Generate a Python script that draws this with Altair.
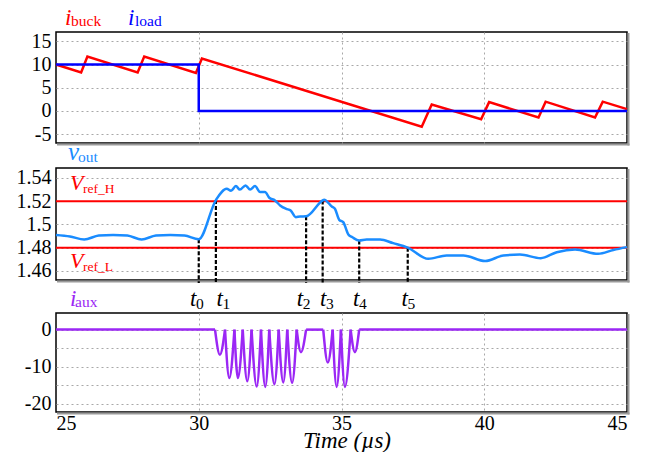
import altair as alt
import pandas as pd

# ---------------- data ----------------
t_buck = [25, 25.88, 26.1, 27.86, 28.09, 29.9, 30.11, 37.81, 38.16, 39.89, 40.17, 41.9, 42.15, 43.88, 44.15, 45]
i_buck = [10, 8.3, 11.7, 8.3, 11.7, 8.2, 11.3, -3.4, 1.4, -1.8, 1.9, -1.4, 2.0, -1.4, 2.0, 0.4]

t_load = [25, 30, 30, 45]
i_load = [10, 10, 0, 0]

t_v = [25, 25.49, 25.99, 26.5, 27.0, 27.5, 28.0, 28.5, 29.0, 29.5, 30.0, 30.6, 30.98, 31.13, 31.3,
       31.44, 31.64, 31.8, 31.97, 32.15, 32.32, 32.47, 32.67, 32.85, 33.06, 33.22, 33.4, 33.55,
       33.76, 34.34, 34.39, 34.66, 34.77, 34.92, 35.06, 35.24, 35.38, 35.62, 35.88, 36.35, 36.81,
       37.32, 38.04, 38.68, 39.27, 40.03, 40.67, 41.25, 41.98, 42.54, 43.18, 43.99, 44.52, 45]
v_out = [1.491, 1.4897, 1.487, 1.4905, 1.491, 1.4905, 1.487, 1.4905, 1.491, 1.4905, 1.4873, 1.521,
         1.5308, 1.529, 1.533, 1.530, 1.5336, 1.530, 1.533, 1.528, 1.528, 1.523, 1.5207, 1.5164,
         1.5135, 1.512, 1.5063, 1.5069, 1.507, 1.5207, 1.5213, 1.5155, 1.5135, 1.504, 1.502,
         1.4914, 1.489, 1.4862, 1.4871, 1.4871, 1.4839, 1.48, 1.4704, 1.4733, 1.4733, 1.4685,
         1.4733, 1.4741, 1.471, 1.4761, 1.4784, 1.4747, 1.478, 1.4805]

t_aux = [25, 30.57, 30.74, 30.92, 31.07, 31.25, 31.37, 31.54, 31.7, 31.85, 32.03, 32.18, 32.33,
         32.47, 32.65, 32.8, 32.96, 33.1, 33.27, 33.43, 33.58, 33.76, 34.36, 34.52, 34.69, 34.83,
         34.98, 35.12, 35.32, 35.47, 35.62, 45]
i_aux = [0, 0, -6.8, 0, -13.1, 0, -13.1, 0, -14, 0, -15.4, 0, -15.5, 0, -14.8, 0, -14.3, 0,
         -14.4, 0, -6.1, 0, 0, -8.9, 0, -15.5, 0, -15.5, 0, -6.1, 0, 0]

v_refs = [1.52, 1.48]

t_marks = ["0", "1", "2", "3", "4", "5"]
t_mark_time = [30.0, 30.6, 33.76, 34.34, 35.62, 37.32]
t_mark_v = [1.4873, 1.521, 1.507, 1.5207, 1.4862, 1.48]
t_label_time = [29.69, 30.62, 33.43, 34.25, 35.4, 37.1]

x_ticks = [25, 30, 35, 40, 45]
y1_ticks = [15, 10, 5, 0, -5]
y2_ticks = [1.54, 1.52, 1.5, 1.48, 1.46]
y3_ticks = [0, -5, -10, -15, -20]

# ---------------- styling ----------------
FONT = "Liberation Serif"
W = 571
H1, H2, H3 = 111, 112, 99
XDOM = [25, 45]
RED = "#ff0000"
BLUE = "#0000ff"
VBLUE = "#1a8cff"
PURPLE = "#9b27f5"
GRID = dict(grid=True, gridColor="#a8a8a8", gridDash=[2, 3], gridWidth=1)


def x_axis(labels):
    if labels:
        return alt.Axis(values=x_ticks, labels=True, ticks=False, domain=False, title=None,
                        labelFont=FONT, labelFontSize=20, labelColor="black", labelPadding=1,
                        gridOpacity={"condition": {"test": "datum.value == 25 || datum.value == 45",
                                                   "value": 0}, "value": 1},
                        **GRID)
    return alt.Axis(values=[30, 35, 40], labels=False, ticks=False, domain=False, title=None, **GRID)


def y_axis(values, expr="'' + datum.value"):
    return alt.Axis(values=values, ticks=False, domain=False, title=None, labelFont=FONT,
                    labelFontSize=20, labelColor="black", labelPadding=5, labelExpr=expr, **GRID)


def xenc(labels=False):
    return alt.X("t:Q", scale=alt.Scale(domain=XDOM, nice=False, zero=False), axis=x_axis(labels))


def label(text, x, y, color, size, italic=False):
    return alt.Chart(pd.DataFrame({"s": [text]})).mark_text(
        align="left", baseline="alphabetic", font=FONT, fontSize=size, color=color,
        fontStyle="italic" if italic else "normal"
    ).encode(text="s:N", x=alt.value(x), y=alt.value(y))


def shadow(h):
    # grey drop-shadow of the panel frame (right and bottom edges)
    d = pd.DataFrame({"a": [0]})
    right = alt.Chart(d).mark_rule(color="#9a9a9a", strokeWidth=2).encode(
        x=alt.value(W + 1.5), y=alt.value(1), y2=alt.value(h + 2.5))
    bottom = alt.Chart(d).mark_rule(color="#9a9a9a", strokeWidth=2).encode(
        x=alt.value(1), x2=alt.value(W + 2.5), y=alt.value(h + 1.5))
    return [right, bottom]


def spacer(h):
    return alt.Chart(pd.DataFrame({"a": [0]})).mark_point(opacity=0).encode(
        x=alt.value(0), y=alt.value(0)
    ).properties(width=W, height=h, view={"stroke": "transparent"})


# ---------------- top panel ----------------
df_buck = pd.DataFrame({"t": t_buck, "y": i_buck})
df_load = pd.DataFrame({"t": t_load, "y": i_load})
y1 = alt.Y("y:Q", scale=alt.Scale(domain=[-6.9, 17], nice=False, zero=False), axis=y_axis(y1_ticks))

top = alt.layer(
    *shadow(H1),
    alt.Chart(df_buck).mark_line(color=RED, strokeWidth=2.5).encode(x=xenc(), y=y1),
    alt.Chart(df_load).mark_line(color=BLUE, strokeWidth=2.5).encode(x=xenc(), y=y1),
    label("i", 9, -7, RED, 23, True),
    label("buck", 15, -6, RED, 15.5),
    label("i", 72, -7, BLUE, 23, True),
    label("load", 79, -6, BLUE, 15.5),
).properties(width=W, height=H1)

# ---------------- middle panel ----------------
df_v = pd.DataFrame({"t": t_v, "y": v_out})
df_ref = pd.DataFrame({"y": v_refs})
df_tm = pd.DataFrame({"t": t_mark_time, "y": t_mark_v, "lt": t_label_time, "k": t_marks})
y2 = alt.Y("y:Q", scale=alt.Scale(domain=[1.4522, 1.5486], nice=False, zero=False),
           axis=y_axis(y2_ticks))

mid = alt.layer(
    *shadow(H2),
    alt.Chart(df_ref).mark_rule(color=RED, strokeWidth=2).encode(y=y2),
    alt.Chart(df_tm).mark_rule(color="black", strokeWidth=2.2, strokeDash=[4, 2]).encode(
        x=xenc(), y=y2, y2=alt.value(H2 + 3)),
    alt.Chart(df_v).mark_line(color=VBLUE, strokeWidth=2.5, interpolate="monotone").encode(
        x=xenc(), y=y2),
    alt.Chart(df_tm).mark_text(align="left", baseline="alphabetic", font=FONT, fontSize=23,
                               fontStyle="italic", color="black", text="t").encode(
        x=alt.X("lt:Q", scale=alt.Scale(domain=XDOM, nice=False, zero=False), axis=None),
        y=alt.value(H2 + 26)),
    alt.Chart(df_tm).mark_text(align="left", baseline="alphabetic", font=FONT, fontSize=15.5,
                               color="black", dx=6).encode(
        x=alt.X("lt:Q", scale=alt.Scale(domain=XDOM, nice=False, zero=False), axis=None),
        y=alt.value(H2 + 29), text="k:N"),
    label("v", 12, -8.5, VBLUE, 25, True),
    label("out", 22, -6.3, VBLUE, 15.5),
    label("V", 14, 22, RED, 22, True),
    label("ref_H", 27, 25.3, RED, 13.5),
    label("V", 14, 100.3, RED, 22, True),
    label("ref_L", 27, 103, RED, 13.5),
).properties(width=W, height=H2)

# ---------------- bottom panel ----------------
# split the auxiliary current into pulses so each pulse is drawn zero -> minimum -> zero
rows = []
seg = 0
for k in range(len(t_aux)):
    if i_aux[k] < 0:
        for j in (k - 1, k, k + 1):
            rows.append({"seg": seg, "t": t_aux[j], "y": i_aux[j]})
        seg += 1
    elif k + 1 < len(t_aux) and i_aux[k] == 0 and i_aux[k + 1] == 0:
        rows.append({"seg": seg, "t": t_aux[k], "y": 0})
        rows.append({"seg": seg, "t": t_aux[k + 1], "y": 0})
        seg += 1
df_aux = pd.DataFrame(rows)

y3 = alt.Y("y:Q", scale=alt.Scale(domain=[-22.3, 4.5], nice=False, zero=False),
           axis=y_axis(y3_ticks, "datum.value % 10 == 0 ? '' + datum.value : ''"))

bot = alt.layer(
    *shadow(H3),
    alt.Chart(df_aux).mark_line(color=PURPLE, strokeWidth=2.5, interpolate="monotone").encode(
        x=xenc(True), y=y3, detail="seg:N"),
    label("i", 14, -7, PURPLE, 23, True),
    label("aux", 19, -6, PURPLE, 15.5),
    alt.Chart(pd.DataFrame({"s": ["Time (\u00b5s)"]})).mark_text(
        align="center", baseline="alphabetic", font=FONT, fontSize=23, fontStyle="italic",
        color="black").encode(text="s:N", x=alt.value(291), y=alt.value(H3 + 36)),
).properties(width=W, height=H3)

chart = alt.vconcat(
    top, spacer(17), mid, spacer(25), bot, spacing=4, bounds="flush",
).properties(
    padding={"left": 7, "top": -2, "right": 10, "bottom": 10}
).configure_view(stroke="black", strokeWidth=1.5)

chart.save("out.html", embed_options={"renderer": "svg", "actions": False})
